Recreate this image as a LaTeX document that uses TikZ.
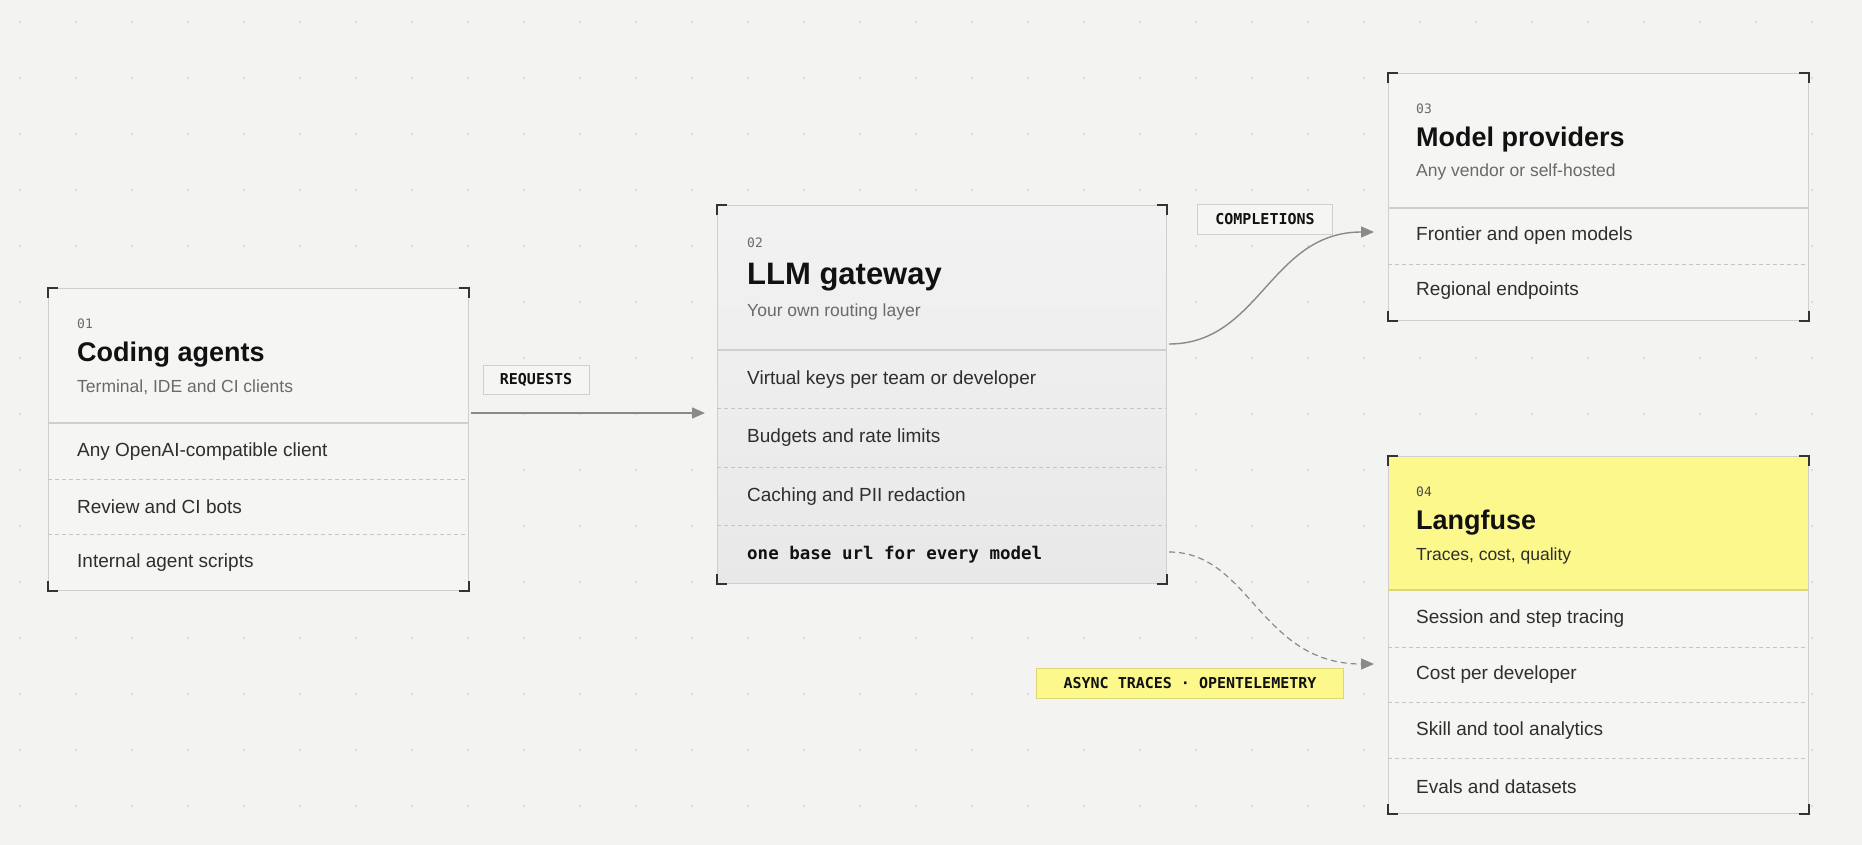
\documentclass[tikz,border=0pt]{standalone}
\usepackage{fontspec}
\setmainfont{Liberation Sans}
\setmonofont{DejaVu Sans Mono}
\usetikzlibrary{arrows.meta,calc}
\definecolor{bg}{HTML}{F3F3F1}
\definecolor{cardbg}{HTML}{F5F5F3}
\definecolor{edge}{HTML}{CFCFCF}
\definecolor{dash}{HTML}{C4C4C4}
\definecolor{ink}{HTML}{111111}
\definecolor{body}{HTML}{2E2E2E}
\definecolor{sub}{HTML}{6A6A6A}
\definecolor{yel}{HTML}{FCF88B}
\definecolor{yeledge}{HTML}{DDD877}
\definecolor{arr}{HTML}{8A8A8A}
\tikzset{
  x=1pt,y=-1pt,
  card/.style={draw=edge,line width=1pt,fill=cardbg,anchor=north west,inner sep=0pt},
  num/.style={anchor=west,inner sep=0pt,font=\fontsize{13}{13}\ttfamily,text=sub},
  ttl/.style={anchor=west,inner sep=0pt,font=\fontsize{27}{27}\bfseries,text=ink},
  subt/.style={anchor=west,inner sep=0pt,font=\fontsize{17.5}{18}\selectfont,text=sub},
  row/.style={anchor=west,inner sep=0pt,font=\fontsize{19}{20}\selectfont,text=body},
  solidline/.style={draw=edge,line width=1.3pt},
  dashline/.style={draw=dash,line width=0.9pt,dash pattern=on 4pt off 3pt},
  tag/.style={draw=edge,fill=cardbg,line width=0.9pt,inner sep=0pt,font=\fontsize{15}{15}\ttfamily\bfseries,text=ink},
  conn/.style={draw=arr,line width=1.4pt,-{Triangle[length=13pt,width=11pt]}},
  brk/.style={draw=black!80,line width=1.6pt},
}
\newcommand{\brackets}[1]{%
  \draw[brk] ($(#1.north west)+(0,10)$) -- (#1.north west) -- ++(10,0);
  \draw[brk] ($(#1.north east)+(0,10)$) -- (#1.north east) -- ++(-10,0);
  \draw[brk] ($(#1.south west)+(0,-10)$) -- (#1.south west) -- ++(10,0);
  \draw[brk] ($(#1.south east)+(0,-10)$) -- (#1.south east) -- ++(-10,0);}
\begin{document}
\begin{tikzpicture}
\fill[bg] (0,0) rectangle (1862,845);
\useasboundingbox (0,0) rectangle (1862,845);
\foreach \i in {0,...,33}{\foreach \j in {0,...,14}{
  \fill[black!18] ({20+56*\i},{22+56*\j}) circle (1.1);}}

% Box 1
\node[card,minimum width=420pt,minimum height=302pt] (b1) at (48,288) {};
\draw[solidline] (48,423) -- (468,423);
\draw[dashline] (48,479) -- (468,479);
\draw[dashline] (48,534) -- (468,534);
\node[num] (b1n) at (77,324) {01};
\node[ttl] (b1t) at (77,355) {Coding agents};
\node[subt] (b1s) at (77,387) {Terminal, IDE and CI clients};
\node[row] (b1r1) at (77,452) {Any OpenAI-compatible client};
\node[row] (b1r2) at (77,507) {Review and CI bots};
\node[row] (b1r3) at (77,563) {Internal agent scripts};
\brackets{b1}

% Box 2
\node[card,minimum width=449pt,minimum height=378pt,draw=edge,top color=black!5,bottom color=black!9] (b2) at (717,205) {};
\draw[solidline] (717,350) -- (1166,350);
\draw[dashline] (717,408) -- (1166,408);
\draw[dashline] (717,467) -- (1166,467);
\draw[dashline] (717,525) -- (1166,525);
\node[num] (b2n) at (747,243) {02};
\node[ttl,font=\fontsize{31}{31}\bfseries] (b2t) at (747,277) {LLM gateway};
\node[subt] (b2s) at (747,312) {Your own routing layer};
\node[row] (b2r1) at (747,380) {Virtual keys per team or developer};
\node[row] (b2r2) at (747,438) {Budgets and rate limits};
\node[row] (b2r3) at (747,497) {Caching and PII redaction};
\node[row,font=\fontsize{17.5}{18}\ttfamily\bfseries,text=ink] (b2r4) at (747,555) {one base url for every model};
\brackets{b2}

% Box 3
\node[card,minimum width=420pt,minimum height=247pt] (b3) at (1388,73) {};
\draw[solidline] (1388,208) -- (1808,208);
\draw[dashline] (1388,264) -- (1808,264);
\node[num] (b3n) at (1416,109) {03};
\node[ttl] (b3t) at (1416,140) {Model providers};
\node[subt] (b3s) at (1416,172) {Any vendor or self-hosted};
\node[row] (b3r1) at (1416,236) {Frontier and open models};
\node[row] (b3r2) at (1416,291) {Regional endpoints};
\brackets{b3}

% Box 4
\node[card,minimum width=420pt,minimum height=357pt] (b4) at (1388,456) {};
\fill[yel] (1388.5,456.5) rectangle (1807.5,590);
\draw[draw=yeledge,line width=1.3pt] (1388,590) -- (1808,590);
\draw[dashline] (1388,647) -- (1808,647);
\draw[dashline] (1388,702) -- (1808,702);
\draw[dashline] (1388,758) -- (1808,758);
\node[num,text=black!70] (b4n) at (1416,492) {04};
\node[ttl] (b4t) at (1416,523) {Langfuse};
\node[subt,text=body] (b4s) at (1416,556) {Traces, cost, quality};
\node[row] (b4r1) at (1416,619) {Session and step tracing};
\node[row] (b4r2) at (1416,675) {Cost per developer};
\node[row] (b4r3) at (1416,731) {Skill and tool analytics};
\node[row] (b4r4) at (1416,787) {Evals and datasets};
\brackets{b4}

% Tags
\node[tag,minimum width=106pt,minimum height=29pt] (req) at (536,380) {REQUESTS};
\node[tag,minimum width=135pt,minimum height=30pt] (comp) at (1265,219) {COMPLETIONS};
\node[tag,fill=yel,draw=yeledge,minimum width=307pt,minimum height=30pt] (async) at (1190,683) {ASYNC TRACES · OPENTELEMETRY};

% Connectors
\coordinate (a1s) at ($(b1.north east)+(2,125)$);
\coordinate (a1e) at ($(b2.north west)+(-12,208)$);
\draw[conn] (a1s) -- (a1e);
\coordinate (a2s) at ($(b2.north east)+(2,139)$);
\coordinate (a2e) at ($(b3.north west)+(-14,159)$);
\draw[conn] (a2s) .. controls (1260,344) and (1270,232) .. (a2e);
\coordinate (a3s) at ($(b2.north east)+(2,347)$);
\coordinate (a3e) at ($(b4.north west)+(-14,208)$);
\draw[conn,dash pattern=on 6pt off 4pt,line width=1.2pt] (a3s) .. controls (1250,552) and (1260,664) .. (a3e);
\end{tikzpicture}
\end{document}
